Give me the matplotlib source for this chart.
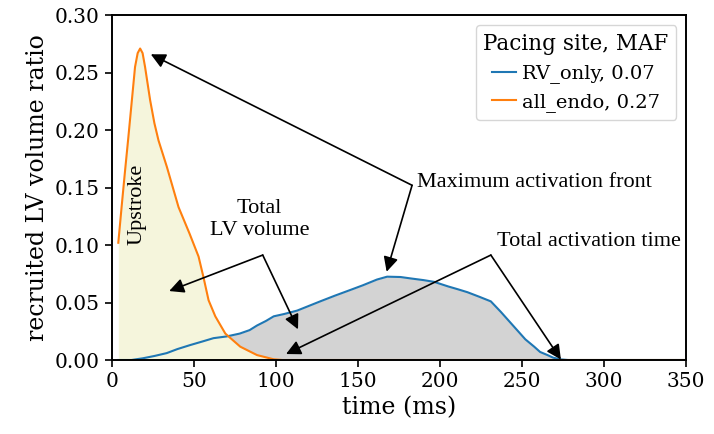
import numpy as np
import matplotlib.pyplot as plt

plt.rcParams['font.family'] = 'DejaVu Serif'

# all_endo pacing (orange)
t_endo = [4, 6, 8, 10, 12, 14.2, 15.8, 17.3, 18.8, 20.3, 23.4, 26.0, 28.5, 33.6,
          40.7, 47.4, 52.9, 55.9, 59.0, 63.1, 69.2, 78.3, 88.5, 98.7, 104, 350]
v_endo = [0.102, 0.133, 0.163, 0.192, 0.222, 0.255, 0.267, 0.271, 0.267, 0.255,
          0.226, 0.206, 0.191, 0.168, 0.133, 0.110, 0.090, 0.072, 0.052, 0.038,
          0.023, 0.0116, 0.0043, 0.0006, 0.0, 0.0]

# RV_only pacing (blue)
t_rv = [4, 12, 19, 26, 33.5, 40, 47.8, 55, 62, 70, 78, 84, 88.5, 94, 98.7, 105,
        113, 120, 127, 136, 145.5, 153, 161.6, 167.8, 176, 182, 190, 196.4, 205,
        211, 216.7, 224, 231, 237, 242, 247, 252, 257.4, 261, 265.5, 269, 273.7,
        278, 350]
v_rv = [0.0, 0.0, 0.0015, 0.0035, 0.006, 0.0095, 0.013, 0.016, 0.019, 0.0205,
        0.023, 0.026, 0.030, 0.034, 0.038, 0.040, 0.043, 0.047, 0.051, 0.056,
        0.061, 0.065, 0.070, 0.0725, 0.0722, 0.071, 0.0695, 0.068, 0.064, 0.0615,
        0.059, 0.055, 0.051, 0.042, 0.034, 0.026, 0.018, 0.0116, 0.007, 0.0043,
        0.002, 0.0005, 0.0, 0.0]

labels = ['RV_only, 0.07', 'all_endo, 0.27']

fig = plt.figure(figsize=(7.14, 4.34), dpi=100)
ax = fig.add_axes([0.1565, 0.1705, 0.8045, 0.7945])

ax.fill_between(t_rv, 0, v_rv, color='lightgray', lw=0)
ax.fill_between(t_endo, 0, v_endo, color='beige', lw=0)
ax.plot(t_rv, v_rv, color='tab:blue', lw=1.5, label=labels[0])
ax.plot(t_endo, v_endo, color='tab:orange', lw=1.5, label=labels[1])

ax.set_xlim(0, 350)
ax.set_ylim(0, 0.30)
ax.set_xticks(range(0, 351, 50))
ax.set_yticks(np.arange(0, 0.31, 0.05))
ax.yaxis.set_major_formatter(plt.FormatStrFormatter('%.2f'))
ax.tick_params(labelsize=14.5, length=5, width=1.2)
for s in ax.spines.values():
    s.set_linewidth(1.4)

ax.set_xlabel('time (ms)', fontsize=17)
ax.set_ylabel('recruited LV volume ratio', fontsize=17)

leg = ax.legend(title='Pacing site, MAF', fontsize=14, title_fontsize=15.5,
                loc='upper right', handlelength=1.2, handletextpad=0.3)

tfont = dict(family='Liberation Serif', fontsize=16)
arrow = dict(arrowstyle='-|>', color='black', lw=1.2, mutation_scale=22,
             shrinkA=0, shrinkB=0)

ax.text(15.5, 0.135, 'Upstroke', rotation=90, ha='center', va='center', **tfont)
ax.text(90, 0.122, 'Total\nLV volume', ha='center', va='center',
        multialignment='center', **tfont)
ax.text(186, 0.154, 'Maximum activation front', ha='left', va='center', **tfont)
ax.text(234.6, 0.103, 'Total activation time', ha='left', va='center', **tfont)

# maximum activation front
ax.annotate('', xy=(23.8, 0.266), xytext=(183, 0.152), arrowprops=arrow)
ax.annotate('', xy=(167.5, 0.0768), xytext=(183, 0.152), arrowprops=arrow)
# total LV volume
ax.annotate('', xy=(35, 0.060), xytext=(92, 0.0913), arrowprops=arrow)
ax.annotate('', xy=(113.5, 0.0267), xytext=(92, 0.0913), arrowprops=arrow)
# total activation time
ax.annotate('', xy=(273.7, 0.0004), xytext=(231, 0.0913), arrowprops=arrow)
ax.annotate('', xy=(106.2, 0.0052), xytext=(231, 0.0913), arrowprops=arrow)

fig.savefig('out.png', dpi=100)
